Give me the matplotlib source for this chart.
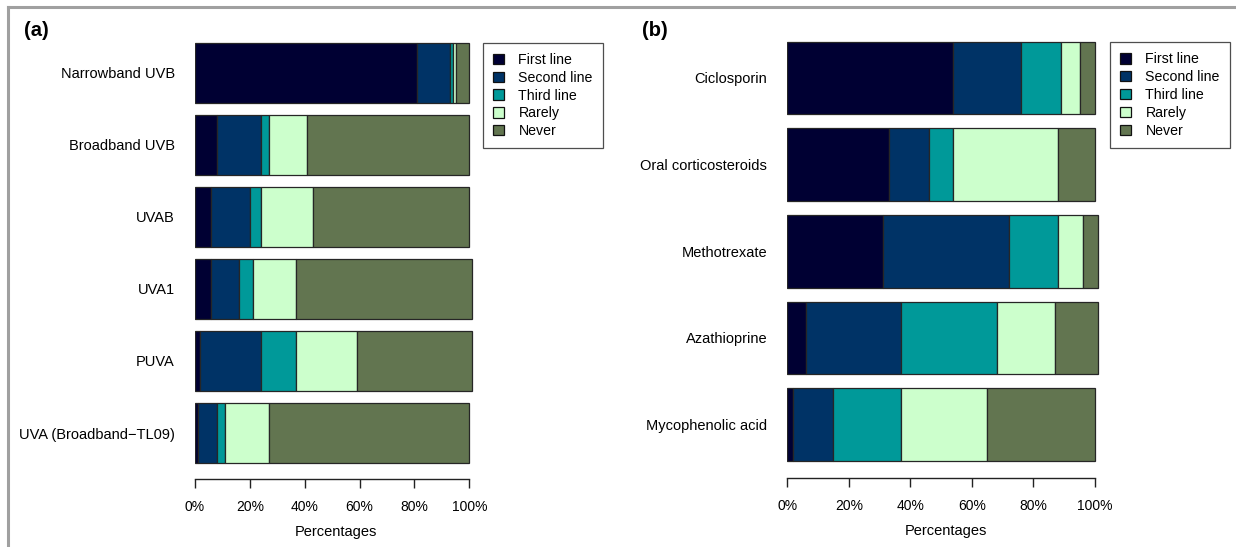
import matplotlib
matplotlib.use('Agg')
import matplotlib.pyplot as plt
from matplotlib.lines import Line2D
import numpy as np

plt.rcParams['font.family'] = ['Liberation Sans', 'DejaVu Sans']

# Response levels and their fill colours
levels = ['First line', 'Second line', 'Third line', 'Rarely', 'Never']
colors = ['#000033', '#003366', '#009999', '#ccffcc', '#627550']

# (a) phototherapy, percentages of respondents
photo_labels = ['Narrowband UVB', 'Broadband UVB', 'UVAB', 'UVA1', 'PUVA',
                'UVA (Broadband\u2212TL09)']
photo_first = [81, 8, 6, 6, 2, 1]
photo_second = [12, 16, 14, 10, 22, 7]
photo_third = [1, 3, 4, 5, 13, 3]
photo_rarely = [1, 14, 19, 16, 22, 16]
photo_never = [5, 59, 57, 64, 42, 73]

# (b) systemic drugs, percentages of respondents
sys_labels = ['Ciclosporin', 'Oral corticosteroids', 'Methotrexate',
              'Azathioprine', 'Mycophenolic acid']
sys_first = [54, 33, 31, 6, 2]
sys_second = [22, 13, 41, 31, 13]
sys_third = [13, 8, 16, 31, 22]
sys_rarely = [6, 34, 8, 19, 28]
sys_never = [5, 12, 5, 14, 35]

W, H = 1236, 547
fig = plt.figure(figsize=(W / 100, H / 100), dpi=100)


def add_panel(x0, x100, top, bottom):
    # axes placed in pixel units; x runs 0..103 so 101% bars are not clipped
    unit = (x100 - x0) / 100.0
    return fig.add_axes([x0 / W, 1 - bottom / H, 103 * unit / W, (bottom - top) / H])


def draw_panel(ax, labels, series, legend_xy):
    y = np.arange(len(labels))
    left = np.zeros(len(labels))
    for name, vals, col in zip(levels, series, colors):
        vals = np.array(vals, dtype=float)
        ax.barh(y, vals, left=left, height=0.84, color=col, edgecolor='#262626',
                linewidth=0.9, label=name)
        left += vals
    ax.set_xlim(0, 103)
    ax.set_ylim(len(labels) - 0.5, -0.5)
    ax.set_yticks(y)
    ax.set_yticklabels(labels, fontsize=10.5)
    ax.tick_params(axis='y', length=0, pad=14.5)
    ax.set_xticks([0, 20, 40, 60, 80, 100])
    ax.set_xticklabels(['0%', '20%', '40%', '60%', '80%', '100%'], fontsize=10.2)
    ax.tick_params(axis='x', length=6.5, width=1.0, pad=8, color='#222222')
    for s in ['top', 'right', 'left']:
        ax.spines[s].set_visible(False)
    ax.spines['bottom'].set_position(('outward', 7.5))
    ax.spines['bottom'].set_bounds(0, 100)
    ax.spines['bottom'].set_linewidth(1.0)
    ax.spines['bottom'].set_color('#222222')
    ax.set_xlabel('Percentages', fontsize=10.5, labelpad=8)
    leg = ax.legend(loc='upper left', bbox_to_anchor=(legend_xy[0] / W, 1 - legend_xy[1] / H),
                    bbox_transform=fig.transFigure, fontsize=10.2, frameon=True,
                    fancybox=False, edgecolor='#222222', handlelength=0.75,
                    handleheight=0.75, handletextpad=1.05, labelspacing=0.27,
                    borderpad=0.7, borderaxespad=0)
    leg.get_frame().set_linewidth(0.9)
    for h in leg.legend_handles:
        h.set_edgecolor('#111111')
        h.set_linewidth(0.9)


ax_a = add_panel(195, 469.3, 37, 469)
draw_panel(ax_a, photo_labels,
           [photo_first, photo_second, photo_third, photo_rarely, photo_never],
           (483, 43))

ax_b = add_panel(787.3, 1095, 34.6, 468)
draw_panel(ax_b, sys_labels,
           [sys_first, sys_second, sys_third, sys_rarely, sys_never],
           (1110, 42.5))

fig.text(24 / W, 1 - 30 / H, '(a)', fontsize=14.5, fontweight='bold', va='center', ha='left')
fig.text(642 / W, 1 - 30 / H, '(b)', fontsize=14.5, fontweight='bold', va='center', ha='left')

# grey frame along the top and left edges
fig.add_artist(Line2D([8 / W, 8 / W], [0, 1 - 7 / H], color='#a0a0a0', lw=2.2,
                      transform=fig.transFigure))
fig.add_artist(Line2D([8 / W, 1], [1 - 7 / H, 1 - 7 / H], color='#a0a0a0', lw=2.2,
                      transform=fig.transFigure))

fig.savefig('out.png', dpi=100)
